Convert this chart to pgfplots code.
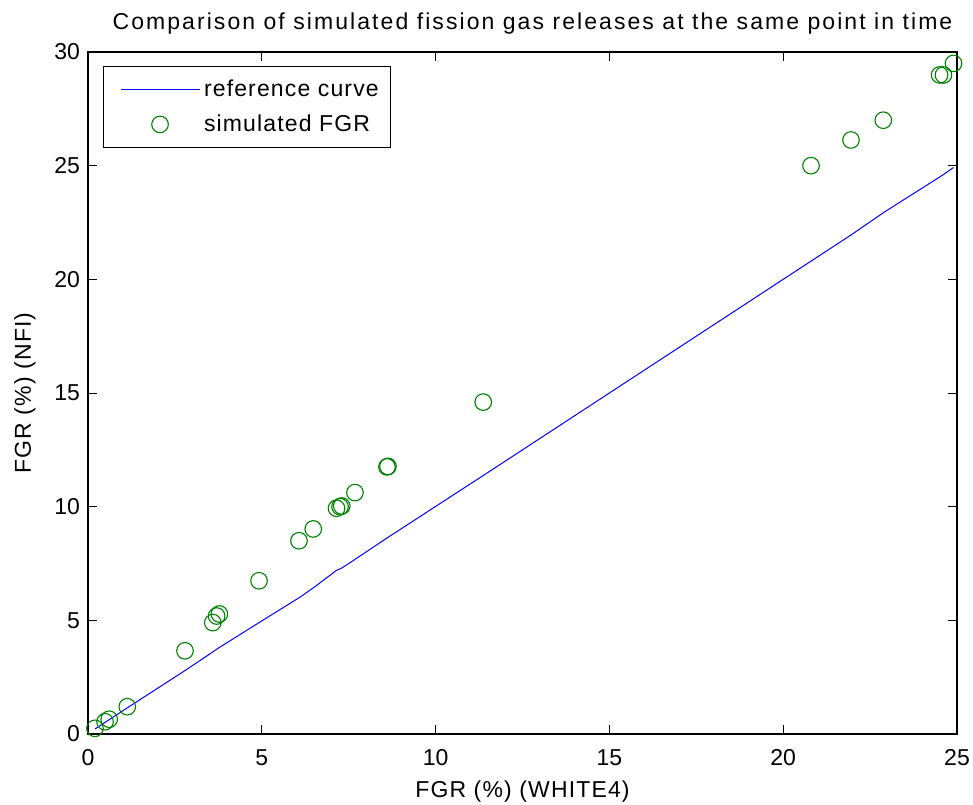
\documentclass[border=0pt]{standalone}
\usepackage{fontspec}
\setmainfont{Liberation Sans}
\newfontfamily\labfont[LetterSpace=5]{Liberation Sans}
\newfontfamily\titfont[LetterSpace=9]{Liberation Sans}
\usepackage{pgfplots}
\pgfplotsset{compat=1.18}

\definecolor{mlgreen}{rgb}{0,0.5,0}
\definecolor{mlblue}{rgb}{0,0,1}

% legend samples: long line for the curve, one centred circle for the points
\pgfplotsset{
  leg line/.style={legend image code/.code={\path[draw=none,fill=none] (0pt,0pt) -- (4.5pt,0pt);\draw[##1] (4.5pt,0pt) -- (44pt,0pt);}},
  leg mark/.style={legend image code/.code={\path[draw=none,fill=none] (0pt,0pt) -- (44pt,0pt);\draw[##1] plot coordinates {(24.25pt,0pt)};}},
}

\begin{document}
\fontsize{11.5}{13.8}\selectfont
\begin{tikzpicture}
\begin{axis}[
  scale only axis,
  width=434.5pt, height=341pt,
  xmin=0, xmax=25, ymin=0, ymax=30,
  xtick={0,5,10,15,20,25},
  ytick={0,5,10,15,20,25,30},
  tick align=inside, tick pos=both,
  major tick length=4.5pt,
  tick style={black, line width=0.5pt},
  axis line style={black, line width=0.6pt},
  /pgf/number format/assume math mode=true,
  tick label style={font=\fontsize{11.5}{13.8}\selectfont},
  xticklabel style={anchor=base, yshift=-15.5pt},
  title={Comparison of simulated fission gas releases at the same point in time},
  title style={at={(axis description cs:0.5,1.0333)}, anchor=base, inner sep=0pt,
               xshift=5pt, yshift=-6pt,
               font=\titfont\fontsize{11.5}{13.8}\selectfont},
  xlabel={FGR (\%) (WHITE4)},
  xlabel style={at={(axis description cs:0.5,-0.0938)}, anchor=base, inner sep=0pt,
                font=\labfont\fontsize{11.5}{13.8}\selectfont},
  ylabel={FGR (\%) (NFI)},
  ylabel style={at={(axis description cs:-0.0656,0.5)}, anchor=base, inner sep=0pt,
                font=\labfont\fontsize{11.5}{13.8}\selectfont},
  legend style={at={(axis description cs:0.0173,0.9795)}, anchor=north west,
                draw=black, line width=0.5pt, inner xsep=4pt, inner ysep=4.6pt,
                row sep=3.3pt, font=\labfont\fontsize{11.5}{13.8}\selectfont},
  legend cell align=left,
]
\addplot[mlblue, line width=0.5pt, mark=none, leg line]
  coordinates {(0.2,0.22) (0.5,0.52) (0.6,0.62) (1.1,1.12) (2.8,2.8) (3.6,3.62) (3.75,3.78) (4.9,4.88) (6.1,6.02) (6.5,6.45) (7.15,7.2) (7.3,7.3) (7.7,7.7) (8.6,8.62) (11.4,11.4) (20.8,20.8) (21.95,21.95) (22.9,22.95) (24.5,24.5) (24.6,24.6) (24.9,24.92)};
\addlegendentry{reference curve}
\addplot[only marks, mark=o, mark size=4.15pt, mark options={mlgreen, line width=0.55pt}, leg mark]
  coordinates {(0.2,0.25) (0.49,0.54) (0.61,0.65) (1.13,1.2) (2.79,3.66) (3.59,4.9) (3.7,5.19) (3.78,5.28) (4.92,6.74) (6.07,8.5) (6.48,9.02) (7.15,9.93) (7.25,10.0) (7.3,10.03) (7.68,10.62) (8.6,11.75) (8.63,11.77) (11.37,14.6) (20.8,25.0) (21.95,26.13) (22.88,27.0) (24.5,28.99) (24.61,28.99) (24.9,29.5)};
\addlegendentry{simulated FGR}
\end{axis}
\pgfresetboundingbox
\path (current axis.south west) ++(-44pt,-35pt) rectangle ++(486.5pt,402pt);
\end{tikzpicture}
\end{document}
